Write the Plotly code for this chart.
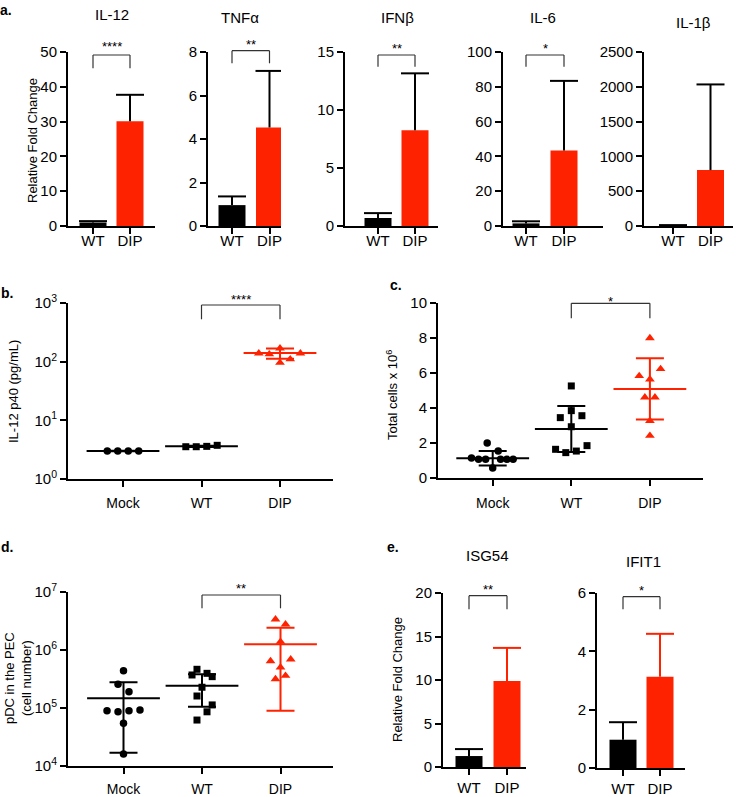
import plotly.graph_objects as go

W, H = 736, 797
RED = "#ff2200"
BLACK = "#000000"
FONT = "Liberation Sans, Arial, Helvetica, sans-serif"

# ------------------------------------------------------------------ data
pair_groups = ["WT", "DIP"]
tri_groups = ["Mock", "WT", "DIP"]

# panel a: cytokine qPCR (mean, +SD)
cyto_names = ["IL-12", "TNFα", "IFNβ", "IL-6", "IL-1β"]
cyto_mean_wt = [1.0, 0.96, 0.69, 1.5, 8]
cyto_err_wt = [0.4, 0.4, 0.42, 1.2, 5]
cyto_mean_dip = [30.1, 4.53, 8.26, 43.4, 803]
cyto_err_dip = [7.6, 2.6, 4.9, 40.0, 1231]
cyto_ymax = [50, 8, 15, 100, 2500]
cyto_dtick = [10, 2, 5, 20, 500]
cyto_sig = ["****", "**", "**", "*", ""]

# panel e: ISG qPCR (mean, +SD)
isg_names = ["ISG54", "IFIT1"]
isg_mean_wt = [1.26, 0.97]
isg_err_wt = [0.8, 0.6]
isg_mean_dip = [9.89, 3.13]
isg_err_dip = [3.8, 1.47]
isg_ymax = [20, 6]
isg_dtick = [5, 2]
isg_sig = ["**", "*"]

# panel b: IL-12 p40 (pg/mL)
p40_mock = [3.0, 3.0, 3.0, 3.0]
p40_wt = [3.55, 3.55, 3.6, 3.75]
p40_dip = [139, 134, 169, 96, 110, 139]
p40_mean = [3.0, 3.6, 140]
p40_sd = [0.02, 0.08, 28]

# panel c: total cells x 10^6
cells_mock = [2.0, 1.54, 1.15, 1.07, 1.07, 1.07, 1.07, 1.07, 0.57]
cells_wt = [5.26, 3.45, 3.85, 3.56, 2.93, 1.64, 1.45, 1.54, 1.85]
cells_dip = [8.0, 6.23, 5.83, 5.64, 4.61, 4.61, 3.27, 2.42]
cells_mean = [1.13, 2.8, 5.09]
cells_sd = [0.42, 1.31, 1.75]

# panel d: pDC in the PEC (cell number)
pdc_mock = [4.4e5, 2.56e5, 1.91e5, 8.98e4, 8.6e4, 9.0e4, 9.2e4, 5.45e4, 1.61e4]
pdc_wt = [4.65e5, 3.71e5, 3.96e5, 3.47e5, 2.28e5, 1.61e5, 1.13e5, 8.6e4, 6.2e4]
pdc_dip = [3.38e6, 2.77e6, 1.39e6, 6.46e5, 6.9e5, 5.03e5, 3.16e5, 3.6e5]
pdc_mean = [1.47e5, 2.43e5, 1.26e6]
pdc_sd = [1.3e5, 1.38e5, 1.17e6]

# horizontal scatter offsets of the dots (layout only)
b_jit = [[-0.2, -0.067, 0.067, 0.2], [-0.2, -0.067, 0.067, 0.2],
         [-0.27, -0.136, 0, 0, 0.13, 0.26]]
c_jit = [[-0.07, 0.07, -0.27, -0.18, -0.09, 0.10, 0.18, 0.26, 0],
         [0, -0.14, 0, 0.135, 0, -0.2, -0.07, 0.064, 0.2],
         [0, 0.136, -0.136, 0, -0.064, 0.064, 0, 0]]
d_jit = [[0, -0.07, 0.07, -0.21, -0.07, 0.07, 0.21, 0, 0],
         [-0.064, -0.127, 0.064, 0.13, 0, -0.064, 0.13, 0.064, -0.064],
         [-0.064, 0.064, 0, -0.127, 0.13, 0, -0.064, 0.064]]

# ------------------------------------------------------------------ helpers
fig = go.Figure()
annotations = []
shapes = []


def px(x):
    return x / W


def py(y):
    return 1 - y / H


def refs(i):
    return ("x" if i == 1 else f"x{i}"), ("y" if i == 1 else f"y{i}")


def add_axes(i, left, right, top, bottom, p0, s, ncat, ticktext, yopts,
             xfont=15, xstand=3):
    xa = "xaxis" if i == 1 else f"xaxis{i}"
    ya = "yaxis" if i == 1 else f"yaxis{i}"
    xr, yr = refs(i)
    common = dict(showline=True, linecolor="black", linewidth=2,
                  ticks="outside", ticklen=6, tickwidth=2, tickcolor="black",
                  showgrid=False, zeroline=False, fixedrange=True,
                  automargin=False)
    xd = dict(common)
    xd.update(domain=[px(left), px(right)], anchor=yr,
              range=[(left - p0) / s, (right - p0) / s],
              tickmode="array", tickvals=list(range(ncat)), ticktext=ticktext,
              tickfont=dict(family=FONT, size=xfont, color="black"),
              ticklabelstandoff=xstand)
    yd = dict(common)
    yd.update(domain=[py(bottom), py(top)], anchor=xr,
              tickfont=dict(family=FONT, size=15, color="black"))
    yd.update(yopts)
    fig.layout[xa] = xd
    fig.layout[ya] = yd


def text(x, y, t, size=13, bold=False, angle=0, xref="paper", xanchor="center"):
    annotations.append(dict(
        x=x if xref != "paper" else px(x), y=py(y), xref=xref, yref="paper",
        text=f"<b>{t}</b>" if bold else t, showarrow=False, textangle=angle,
        xanchor=xanchor, yanchor="middle",
        font=dict(family=FONT, size=size, color="black")))


def bracket(i, x0, x1, ytop, ybot, stars, ystar):
    xr, _ = refs(i)
    for (a, b, c, d) in [(x0, ybot, x0, ytop), (x0, ytop, x1, ytop), (x1, ytop, x1, ybot)]:
        shapes.append(dict(type="line", xref=xr, yref="paper",
                           x0=a, y0=py(b), x1=c, y1=py(d),
                           line=dict(color="#333333", width=1.2)))
    text((x0 + x1) / 2, ystar, stars, size=13, xref=xr)


def bar_panel(i, mean_wt, err_wt, mean_dip, err_dip, dip_err_color, width):
    xr, yr = refs(i)
    for k, (m, e, col, ecol) in enumerate([(mean_wt, err_wt, BLACK, BLACK),
                                           (mean_dip, err_dip, RED, dip_err_color)]):
        fig.add_trace(go.Bar(
            x=[k], y=[m], xaxis=xr, yaxis=yr, width=width,
            marker=dict(color=col, line=dict(width=0)),
            error_y=dict(type="data", symmetric=False, array=[e], arrayminus=[0],
                         width=0, thickness=2, color=ecol),
            showlegend=False, hoverinfo="skip"))
        fig.add_trace(go.Scatter(
            x=[k], y=[m + e], xaxis=xr, yaxis=yr, mode="markers",
            marker=dict(symbol="line-ew", size=20, line=dict(width=2, color=ecol)),
            showlegend=False, hoverinfo="skip"))


def dot_panel(i, groups_vals, jits, means, sds):
    xr, yr = refs(i)
    syms = ["circle", "square", "triangle-up"]
    sizes = [7.5, 7, 8.5]
    cols = [BLACK, BLACK, RED]
    for k in range(3):
        fig.add_trace(go.Scatter(
            x=[k], y=[means[k]], xaxis=xr, yaxis=yr, mode="markers",
            marker=dict(symbol="line-ew", size=52, line=dict(width=2, color=cols[k])),
            error_y=dict(type="data", array=[sds[k]], width=14, thickness=2,
                         color=cols[k]),
            showlegend=False, hoverinfo="skip"))
        fig.add_trace(go.Scatter(
            x=[k + j for j in jits[k]], y=groups_vals[k], xaxis=xr, yaxis=yr,
            mode="markers",
            marker=dict(symbol=syms[k], size=sizes[k], color=cols[k], line=dict(width=0)),
            showlegend=False, hoverinfo="skip"))


# ------------------------------------------------------------------ panel a
a_geom = [  # left, right, p0, spacing
    (68, 155, 93, 37),
    (208, 281, 232, 37.5),
    (345, 438, 378, 37),
    (503, 603, 526, 38),
    (644, 733, 673, 37.5),
]
a_titles_xy = [(112, 15), (240, 18), (397, 17), (543, 18), (693, 22)]
a_brackets = [(55, 68.3, 46), (50.7, 63.3, 44), (55, 66.7, 48), (55, 66.7, 48), None]

for n in range(5):
    i = n + 1
    left, right, p0, s = a_geom[n]
    add_axes(i, left, right, 52, 226, p0, s, 2, pair_groups,
             dict(range=[0, cyto_ymax[n]], dtick=cyto_dtick[n], tick0=0),
             xfont=15, xstand=-6)
    bar_panel(i, cyto_mean_wt[n], cyto_err_wt[n], cyto_mean_dip[n], cyto_err_dip[n],
              BLACK, 27 / s)
    text(*a_titles_xy[n], cyto_names[n], size=15)
    if cyto_sig[n]:
        yt, yb, ys = a_brackets[n]
        bracket(i, 0, 1, yt, yb, cyto_sig[n], ys)

text(32, 141, "Relative Fold Change", size=13, angle=-90)
text(6, 10, "a.", size=14, bold=True)

# ------------------------------------------------------------------ panel b
add_axes(6, 68, 333, 303, 479, 123, 78.5, 3, tri_groups,
         dict(type="log", range=[0, 3], tickmode="array", tickvals=[1, 10, 100, 1000],
              ticktext=["10<sup>0</sup>", "10<sup>1</sup>", "10<sup>2</sup>", "10<sup>3</sup>"]),
         xfont=14, xstand=4)
dot_panel(6, [p40_mock, p40_wt, p40_dip], b_jit, p40_mean, p40_sd)
bracket(6, 1, 2, 305, 319.3, "****", 299)
text(14, 392, "IL-12 p40 (pg/mL)", size=13, angle=-90)
text(7, 293, "b.", size=14, bold=True)

# ------------------------------------------------------------------ panel c
add_axes(7, 438, 703, 303, 478, 492.7, 78.6, 3, tri_groups,
         dict(range=[0, 10], dtick=2, tick0=0), xfont=14, xstand=5)
dot_panel(7, [cells_mock, cells_wt, cells_dip], c_jit, cells_mean, cells_sd)
bracket(7, 1, 2, 303.3, 318.3, "*", 301)
text(392, 395, "Total cells x 10<sup>6</sup>", size=13, angle=-90)
text(396, 285, "c.", size=14, bold=True)

# ------------------------------------------------------------------ panel d
add_axes(8, 68, 333, 592, 766, 123.5, 78.5, 3, tri_groups,
         dict(type="log", range=[4, 7], tickmode="array", tickvals=[1e4, 1e5, 1e6, 1e7],
              ticktext=["10<sup>4</sup>", "10<sup>5</sup>", "10<sup>6</sup>", "10<sup>7</sup>"]),
         xfont=14, xstand=3)
dot_panel(8, [pdc_mock, pdc_wt, pdc_dip], d_jit, pdc_mean, pdc_sd)
bracket(8, 1, 2, 595, 608.3, "**", 588)
text(18, 678, "pDC in the PEC<br>(cell number)", size=13, angle=-90)
text(7, 547, "d.", size=14, bold=True)

# ------------------------------------------------------------------ panel e
e_geom = [(443, 526, 593, 767, 469, 38), (597, 685, 593, 768, 623, 37)]
e_titles_xy = [(487, 555), (643, 561)]
e_brackets = [(595.7, 609.3, 589), (596.7, 609.3, 590)]
for n in range(2):
    i = 9 + n
    left, right, top, bottom, p0, s = e_geom[n]
    add_axes(i, left, right, top, bottom, p0, s, 2, pair_groups,
             dict(range=[0, isg_ymax[n]], dtick=isg_dtick[n], tick0=0), xfont=15, xstand=0)
    bar_panel(i, isg_mean_wt[n], isg_err_wt[n], isg_mean_dip[n], isg_err_dip[n],
              RED, 27 / s)
    text(*e_titles_xy[n], isg_names[n], size=15)
    yt, yb, ys = e_brackets[n]
    bracket(i, 0, 1, yt, yb, isg_sig[n], ys)

text(397, 680, "Relative Fold Change", size=13, angle=-90)
text(393, 547, "e.", size=14, bold=True)

fig.update_layout(
    width=W, height=H, margin=dict(l=0, r=0, t=0, b=0, autoexpand=False),
    paper_bgcolor="white", plot_bgcolor="white",
    showlegend=False, annotations=annotations, shapes=shapes,
    font=dict(family=FONT, color="black"),
)

fig.write_html("out.html", config={"displayModeBar": False},
               post_script="document.body.style.margin='0';document.body.style.padding='0';document.body.style.overflow='hidden';")
